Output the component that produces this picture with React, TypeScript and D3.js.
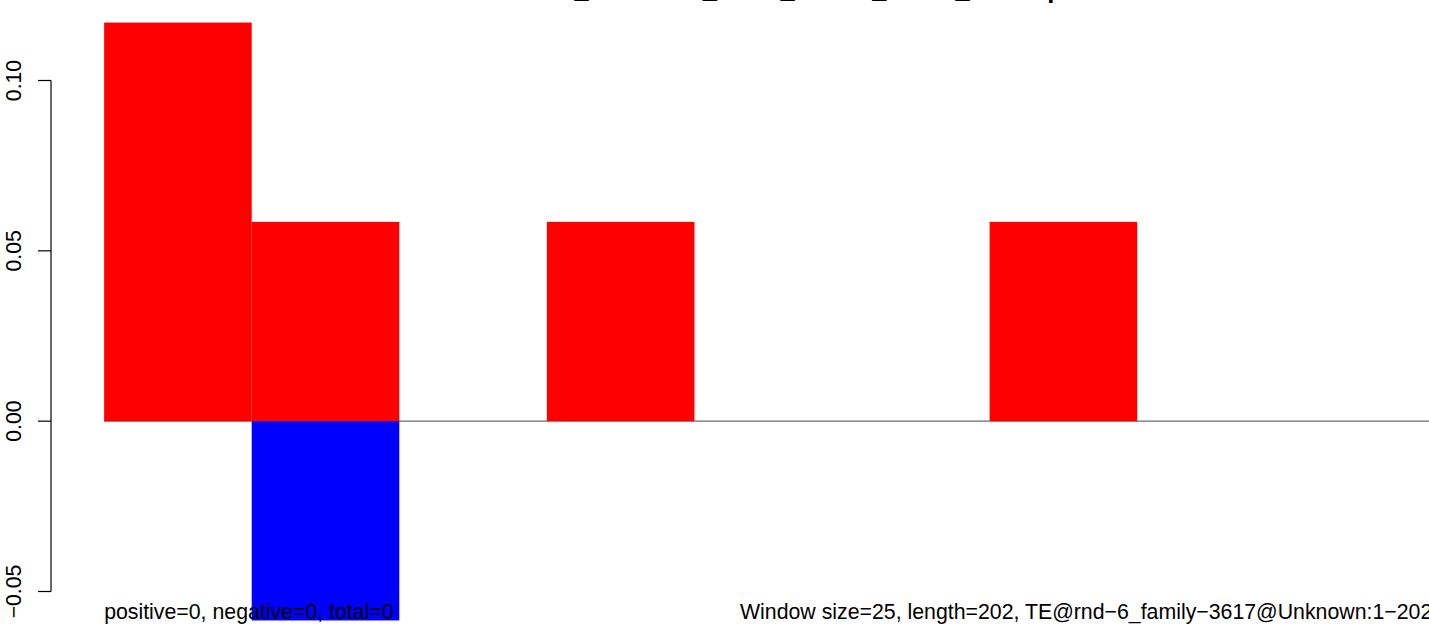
import React from "react";
import * as d3 from "d3";

const windows = ["1-25", "26-50", "51-75", "76-100", "101-125", "126-150", "151-175", "176-200", "201-202"];
const positiveValues = [0.117, 0.0585, 0, 0.0585, 0, 0, 0.0585, 0, 0];
const negativeValues = [0, -0.0585, 0, 0, 0, 0, 0, 0, 0];
const yTicks = [-0.05, 0, 0.05, 0.1];
const titleText = "TE_Unknown_rnd-6_strand_ratios_3617a.pdf";
const leftNote = "positive=0, negative=0, total=0";
const rightNote = "Window size=25, length=202, TE@rnd\u22126_family\u22123617@Unknown:1\u2212202";

const W = 1429;
const H = 627;
const FONT = "'Liberation Sans', Arial, Helvetica, sans-serif";

export default function App() {
  const n = windows.length;
  const x = d3.scaleLinear().domain([-0.04 * n, n + 0.04 * n]).range([51, 1485.5]);
  const y = d3.scaleLinear().domain([-0.05, 0.1]).range([591.5, 80.5]);
  const fmt = d3.format(".2f");
  const axisX = x(-0.04 * n);

  return (
    <svg
      width={W}
      height={H}
      style={{ position: "absolute", left: 0, top: 0, background: "#fff" }}
      fontFamily={FONT}
    >
      <rect x={0} y={0} width={W} height={H} fill="#fff" />
      {/* zero line */}
      <line x1={x(0)} x2={x(n)} y1={y(0)} y2={y(0)} stroke="#6b6b6b" strokeWidth={1.2} />
      {/* bars */}
      {positiveValues.map((v, i) =>
        v > 0 ? (
          <rect key={"p" + i} x={x(i)} width={x(i + 1) - x(i)} y={y(v)} height={y(0) - y(v)} fill="#ff0000" />
        ) : null
      )}
      {negativeValues.map((v, i) =>
        v < 0 ? (
          <rect key={"n" + i} x={x(i)} width={x(i + 1) - x(i)} y={y(0)} height={y(v) - y(0)} fill="#0000ff" />
        ) : null
      )}
      {/* y axis */}
      <line x1={axisX} x2={axisX} y1={y(yTicks[0])} y2={y(yTicks[yTicks.length - 1])} stroke="#000" strokeWidth={1.2} />
      {yTicks.map((t) => (
        <g key={t}>
          <line x1={axisX - 13} x2={axisX} y1={y(t)} y2={y(t)} stroke="#000" strokeWidth={1.2} />
          <text
            transform={`translate(21,${y(t)}) rotate(-90)`}
            textAnchor="middle"
            fontSize={21.2}
            fill="#000"
          >
            {fmt(t)}
          </text>
        </g>
      ))}
      {/* title (clipped at top, as in the reference) */}
      <text x={542} y={-2} fontSize={25.4} fontWeight="bold" fill="#000">
        {titleText}
      </text>
      {/* bottom notes */}
      <text x={x(0)} y={619} fontSize={21.3} fill="#000">
        {leftNote}
      </text>
      <text x={740} y={619} fontSize={21.3} fill="#000">
        {rightNote}
      </text>
    </svg>
  );
}
